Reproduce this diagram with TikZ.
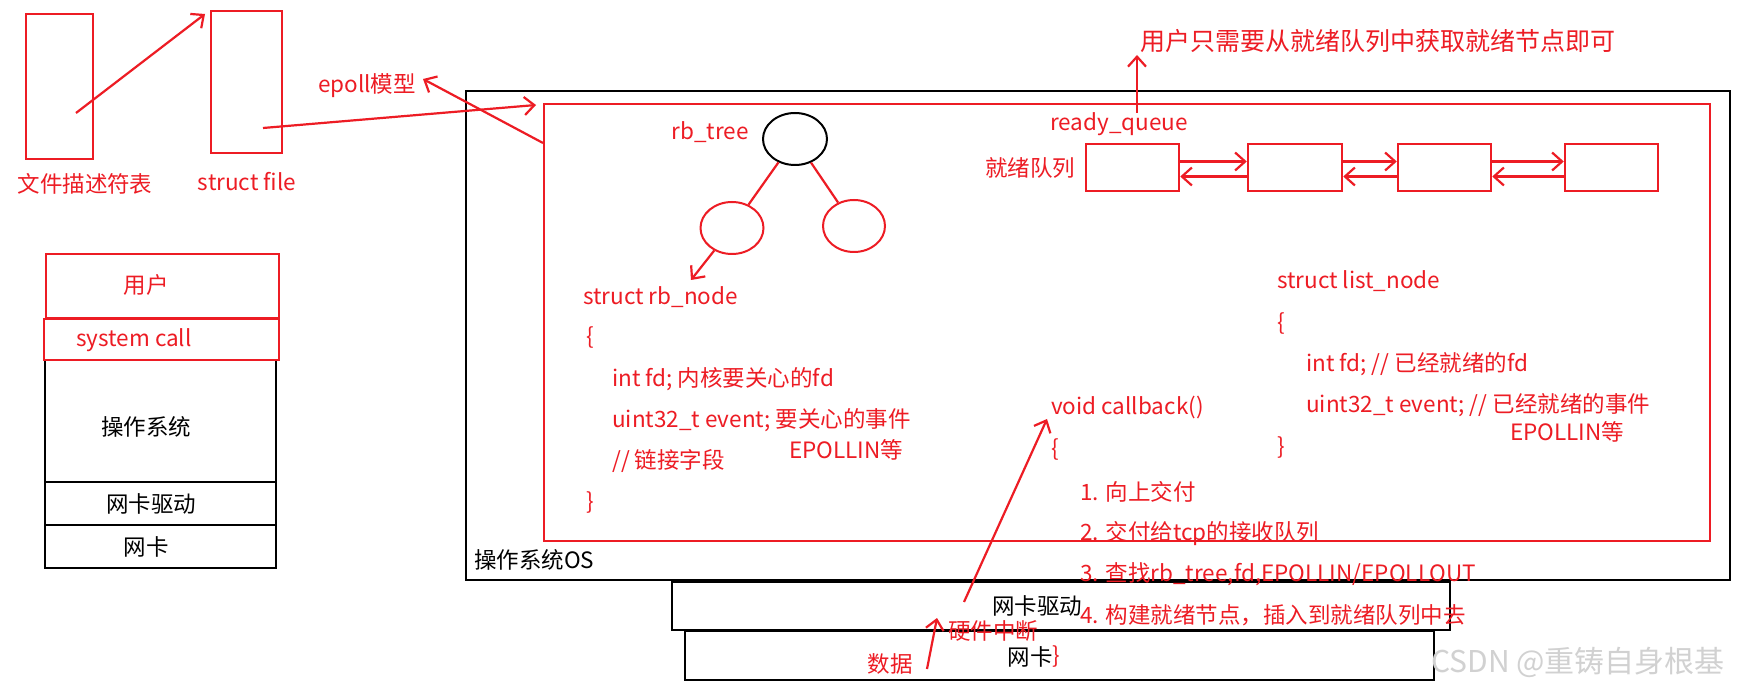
\documentclass[tikz,border=0pt]{standalone}
\usepackage{fontspec}
\setmainfont{Noto Sans CJK SC}
\usetikzlibrary{arrows.meta,shapes.geometric}
\definecolor{pr}{HTML}{ED1C24}
\begin{document}
\begin{tikzpicture}[x=1pt,y=-1pt,
  rbox/.style={draw=pr,line width=2.5pt,inner sep=0pt},
  kbox/.style={draw=black,line width=2.8pt,inner sep=0pt},
  rt/.style={text=pr,font=\fontsize{22.5}{26}\selectfont,inner sep=0pt},
  kt/.style={text=black,font=\fontsize{22.5}{26}\selectfont,inner sep=0pt},
  rarr/.style={draw=pr,line width=2.2pt,-{Straight Barb[length=10pt,width=18pt,line width=2.2pt]}},
  rline/.style={draw=pr,line width=2.2pt}]
\useasboundingbox (0,0) rectangle (1746,692);
\fill[white] (0,0) rectangle (1746,692);
% top-left boxes
\draw[rbox] (26,14) rectangle (93,159); \coordinate (fdin) at (76,113);
\draw[rbox] (211,11) rectangle (282,153); \coordinate (sfin) at (263,128);
\node[rt] (fdl) at (85,184) {文件描述符表};
\node[rt] (sfl) at (247,182) {struct file};
\coordinate (sftop) at (205,14);
\draw[rarr] (fdin) -- (sftop);
% stack
\draw[kbox] (45,360) rectangle (276,482);
\draw[kbox] (45,482) rectangle (276,525);
\draw[kbox] (45,525) rectangle (276,568);
\draw[rbox] (46,254) rectangle (279,318);
\draw[rbox] (44,319) rectangle (279,360);
\node[rt] (yh) at (146,285) {用户};
\node[rt] (sc) at (134,340) {system call};
\node[kt] (czxt) at (146,427) {操作系统};
\node[kt] (wkqd) at (151,504) {网卡驱动};
\node[kt] (wk0) at (146,547) {网卡};
% NIC boxes
\draw[kbox] (685,631) rectangle (1434,680);
\draw[kbox] (672,582) rectangle (1450,630);
% OS box
\draw[kbox,fill=white] (466,91) rectangle (1730,580);
\node[kt,anchor=west] (osl) at (474,560) {操作系统OS};
\draw[rbox] (544,104) rectangle (1710,541);
\node[kt] (wkqd2) at (1037,606) {网卡驱动};
\node[kt] (wk2) at (1030,657) {网卡};
% epoll arrows
\node[rt] (ep) at (367,86) {epoll模型};
\coordinate (rbc) at (543,143); \coordinate (ept) at (423,79);
\draw[rarr] (rbc) -- (ept);
\coordinate (rbin) at (536,105);
\draw[rarr] (sfin) -- (rbin);
% rb tree
\node[rt] (rbt) at (710,132) {rb\_tree};
\node[draw=black,line width=2pt,ellipse,minimum width=64pt,minimum height=52pt] (root) at (795,139) {};
\node[draw=pr,line width=2pt,ellipse,minimum width=63pt,minimum height=52pt] (lc) at (732,228) {};
\node[draw=pr,line width=2pt,ellipse,minimum width=62pt,minimum height=52pt] (rc) at (854,226) {};
\draw[rline] (root) -- (lc);
\draw[rline] (root) -- (rc);
\coordinate (rbn) at (691,280);
\draw[rarr] (lc) -- (rbn);
\node[rt,anchor=west] (s1) at (583,297) {struct rb\_node};
\node[rt,anchor=west] (s2) at (586,338) {\{};
\node[rt,anchor=west] (s3) at (612,379) {int fd; 内核要关心的fd};
\node[rt,anchor=west] (s4) at (612,420) {uint32\_t event; 要关心的事件};
\node[rt,anchor=west] (s5) at (789,450) {EPOLLIN等};
\node[rt,anchor=west] (s6) at (612,461) {// 链接字段};
\node[rt,anchor=west] (s7) at (586,503) {\}};
% ready queue
\node[rt] (top) at (1378,41) {\fontsize{25}{28}\selectfont 用户只需要从就绪队列中获取就绪节点即可};
\node[rt] (rq) at (1119,124) {ready\_queue};
\coordinate (rqa) at (1137,113); \coordinate (rqb) at (1137,55);
\draw[rarr] (rqa) -- (rqb);
\node[rt] (jx) at (1030,168) {就绪队列};
\node[rbox,minimum width=93pt,minimum height=47pt] (b1) at (1132.5,167.5) {};
\node[rbox,minimum width=94pt,minimum height=47pt] (b2) at (1295,167.5) {};
\node[rbox,minimum width=93pt,minimum height=47pt] (b3) at (1444.5,167.5) {};
\node[rbox,minimum width=93pt,minimum height=47pt] (b4) at (1611.5,167.5) {};
\foreach \a/\b in {b1/b2,b2/b3,b3/b4}{
  \draw[rarr] ([yshift=6pt]\a.east) -- ([yshift=6pt]\b.west);
  \draw[rarr] ([yshift=-9pt]\b.west) -- ([yshift=-9pt]\a.east);
}
\node[rt,anchor=west] (l1) at (1277,281) {struct list\_node};
\node[rt,anchor=west] (l2) at (1277,324) {\{};
\node[rt,anchor=west] (l3) at (1306,364) {int fd; // 已经就绪的fd};
\node[rt,anchor=west] (l4) at (1306,405) {uint32\_t event; // 已经就绪的事件};
\node[rt,anchor=west] (l5) at (1510,432) {EPOLLIN等};
\node[rt,anchor=west] (l6) at (1277,448) {\}};
% callback
\node[rt,anchor=west] (c0) at (1051,408) {void callback()};
\node[rt,anchor=west] (c1) at (1051,450) {\{};
\node[rt,anchor=west] (c2) at (1080,492) {1. 向上交付};
\node[rt,anchor=west] (c3) at (1080,534) {2. 交付给tcp的接收队列};
\node[rt,anchor=west] (c4) at (1080,574) {3. 查找rb\_tree,fd,EPOLLIN/EPOLLOUT};
\node[rt,anchor=west] (c5) at (1080,615) {4. 构建就绪节点，插入到就绪队列中去};
\node[rt,anchor=west] (c6) at (1052,657) {\}};
\node[rt] (hw) at (993,631) {硬件中断};
\node[rt] (data) at (890,664) {数据};
\coordinate (d1) at (927,669); \coordinate (d2) at (937,618);
\draw[rarr] (d1) -- (d2);
\coordinate (h1) at (964,602); \coordinate (h2) at (1047,419);
\draw[rarr] (h1) -- (h2);
\node[text=black!18,font=\fontsize{30}{34}\selectfont,inner sep=0pt] (wm) at (1578,662) {CSDN @重铸自身根基};
\end{tikzpicture}
\end{document}
